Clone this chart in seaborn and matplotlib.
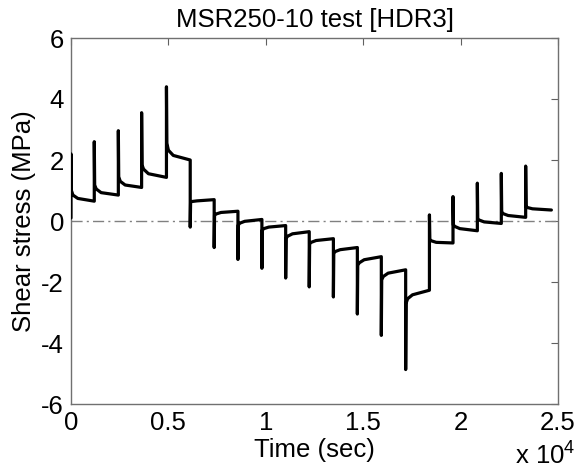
import matplotlib
matplotlib.use("Agg")
import matplotlib.pyplot as plt
import numpy as np
import pandas as pd
import seaborn as sns

# ---- data ----
step_time = [0, 1195, 2430, 3625, 4900, 6120, 7350, 8570, 9800, 11020,
             12230, 13470, 14700, 15930, 17180, 18400, 19610, 20860, 22090, 23340]
end_time = 24660
initial_stress = 0.1
peak_stress = [2.2, 2.6, 2.96, 3.55, 4.4, -0.2, -0.87, -1.26, -1.55, -1.87,
               -2.16, -2.49, -3.05, -3.75, -4.87, 0.2, 0.8, 1.24, 1.56, 1.8]
start_stress = [1.0, 1.18, 1.45, 1.84, 2.55, 0.63, 0.2, -0.13, -0.3, -0.57,
                -0.75, -1.06, -1.45, -1.93, -2.7, -0.6, -0.13, 0.07, 0.3, 0.47]
early_stress = [0.85, 1.05, 1.3, 1.7, 2.32, 0.64, 0.23, -0.07, -0.25, -0.5,
                -0.7, -1.0, -1.37, -1.82, -2.55, -0.65, -0.18, 0.03, 0.24, 0.44]
knee_stress = [0.74, 0.93, 1.18, 1.55, 2.15, 0.66, 0.28, -0.01, -0.2, -0.42,
               -0.64, -0.94, -1.27, -1.71, -2.42, -0.7, -0.25, -0.03, 0.18, 0.4]
end_stress = [0.65, 0.85, 1.1, 1.43, 2.0, 0.7, 0.32, 0.05, -0.15, -0.35,
              -0.58, -0.87, -1.17, -1.6, -2.27, -0.72, -0.32, -0.08, 0.12, 0.36]

x_ticks = [0, 5000, 10000, 15000, 20000, 25000]
x_tick_labels = ["0", "0.5", "1", "1.5", "2", "2.5"]
y_ticks = [-6, -4, -2, 0, 2, 4, 6]

# ---- build the trace ----
times = [step_time[0]]
stress = [initial_stress]
for i, t in enumerate(step_time):
    t_next = step_time[i + 1] if i + 1 < len(step_time) else end_time
    times += [t, t + 20, t + 100, t + 350, t_next]
    stress += [peak_stress[i], start_stress[i], early_stress[i],
               knee_stress[i], end_stress[i]]
df = pd.DataFrame({"time": times, "stress": stress})

sns.set_style("white")
plt.rcParams["font.family"] = ["Liberation Sans", "DejaVu Sans"]
plt.rcParams["mathtext.default"] = "regular"
plt.rcParams["axes.unicode_minus"] = False
plt.rcParams["text.color"] = "black"
plt.rcParams["axes.labelcolor"] = "black"
plt.rcParams["xtick.color"] = "black"
plt.rcParams["ytick.color"] = "black"

fig = plt.figure(figsize=(5.88, 4.73), dpi=100)
ax = fig.add_axes([71 / 588, 1 - 404 / 473, (558 - 71) / 588, (404 - 38) / 473])

ax.axhline(0, color="#808080", lw=1.0, ls=(0, (8, 3, 1.5, 3)), zorder=1)
sns.lineplot(data=df, x="time", y="stress", sort=False, estimator=None,
             color="black", lw=2.3, ax=ax, zorder=3)

ax.set_xlim(0, 25000)
ax.set_ylim(-6, 6)
ax.set_xticks(x_ticks)
ax.set_xticklabels(x_tick_labels)
ax.set_yticks(y_ticks)
ax.tick_params(direction="in", length=5, width=0.8, color="#606060",
               top=True, right=True, labelsize=18.5, pad=5, labelcolor="black")
for sp in ax.spines.values():
    sp.set_visible(True)
    sp.set_color("#707070")
    sp.set_linewidth(1.0)

ax.set_title("MSR250-10 test [HDR3]", fontsize=18.5, pad=8, color="black")
ax.set_xlabel("Time (sec)", fontsize=18.5, labelpad=2)
ax.set_ylabel("Shear stress (MPa)", fontsize=18.5, labelpad=4)
fig.text(575 / 588, 1 - 470 / 473, r"x 10$^{4}$", fontsize=18.5,
         ha="right", va="bottom")

fig.savefig("out.png", dpi=100)
